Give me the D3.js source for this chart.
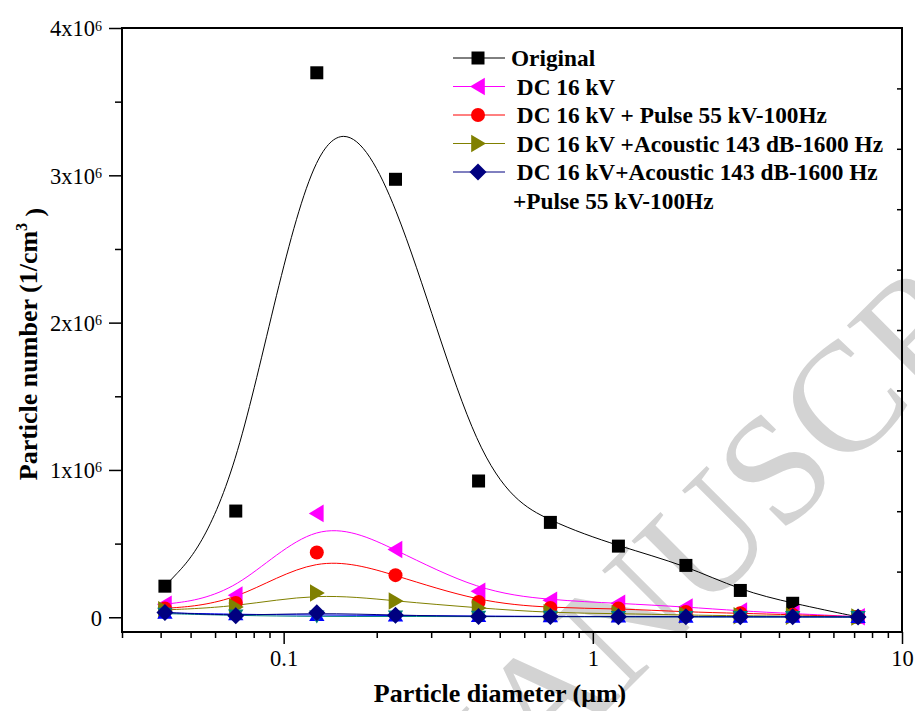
<!DOCTYPE html>
<html>
<head>
<meta charset="utf-8">
<script src="https://cdn.jsdelivr.net/npm/d3@7"></script>
<style>
  html, body { margin: 0; padding: 0; background: #fff; }
  svg { display: block; }
</style>
</head>
<body>
<svg id="chart" width="915" height="711"></svg>
<script>
// ---------------- data ----------------
const diameters = [0.0413, 0.070, 0.128, 0.230, 0.427, 0.729, 1.21, 2.00, 3.00, 4.43, 7.21];
const original        = [211000, 721000, 3696000, 2973000, 925000, 644000, 483000, 352000, 182000, 95000, 2000];
const dc16            = [88000, 150000, 705000, 460000, 177000, 116000, 95000, 70000, 43000, 25000, 4000];
const dc16Pulse       = [60000, 97000, 440000, 286000, 104000, 63000, 59000, 36000, 27000, 17000, 3000];
const dc16Acoustic    = [50000, 70000, 165000, 110000, 63000, 30000, 25000, 15000, 10000, 8000, 2000];
const hiddenBlue      = [30000, 20000, 15000, 12000, 8000, 6000, 5000, 4000, 3000, 3000, 2000];
const hiddenTeal      = [25000, 12000, 5000, 6000, 4000, 4000, 3000, 3000, 2000, 2000, 2000];
const dc16AcPulse     = [33000, 10000, 30000, 14000, 5000, 5000, 4000, 4000, 3000, 3000, 2000];

const legendLabels = [
  ["Original"],
  [" DC 16 kV"],
  [" DC 16 kV + Pulse 55 kV-100Hz"],
  [" DC 16 kV +Acoustic 143 dB-1600 Hz"],
  [" DC 16 kV+Acoustic 143 dB-1600 Hz", "+Pulse 55 kV-100Hz"]
];
const xTickValues = [0.1, 1, 10];
const xTickLabels = ["0.1", "1", "10"];
const yTickValues = [0, 1e6, 2e6, 3e6, 4e6];
const yTickMantissa = ["0", "1", "2", "3", "4"];
const xTitle = "Particle diameter (\u03BCm)";
const yTitle = "Particle number (1/cm";

// ---------------- layout ----------------
const svg = d3.select("#chart");
const pL = 122, pR = 902, pT = 28, pB = 632;
const x = d3.scaleLog().domain([0.03, 10]).range([pL, pR]);
const y = d3.scaleLinear().domain([-100000, 4000000]).range([pB, pT]);
const serif = "'Liberation Serif', 'Times New Roman', serif";

// watermark
const wm = svg.append("g").attr("transform", "translate(444,873) rotate(-45)");
wm.append("text")
  .attr("text-anchor", "end")
  .attr("font-family", serif).attr("font-size", 156).attr("fill", "#d3d3d3")
  .text("ACCEPTED\u00A0");
wm.append("text")
  .attr("font-family", serif).attr("font-size", 156).attr("fill", "#d3d3d3")
  .text("MANUSCRIPT");

// ---------------- series ----------------
const shapes = {
  square: s => `M${-s},${-s}H${s}V${s}H${-s}Z`,
  left: s => `M${-s},0L${s*0.85},${-s*1.1}L${s*0.85},${s*1.1}Z`,
  right: s => `M${s},0L${-s*0.85},${-s*1.1}L${-s*0.85},${s*1.1}Z`,
  up: s => `M0,${-s}L${s*1.1},${s*0.85}L${-s*1.1},${s*0.85}Z`,
  down: s => `M0,${s}L${s*1.1},${-s*0.85}L${-s*1.1},${-s*0.85}Z`,
  diamond: s => `M0,${-s}L${s},0L0,${s}L${-s},0Z`,
  circle: s => `M${-s},0A${s},${s} 0 1,0 ${s},0A${s},${s} 0 1,0 ${-s},0Z`
};

const series = [
  { values: original,     color: "#000000", shape: "square",  size: 6.5, legend: 0 },
  { values: dc16,         color: "#ff00ff", shape: "left",    size: 8,   legend: 1 },
  { values: dc16Pulse,    color: "#ff0000", shape: "circle",  size: 7,   legend: 2 },
  { values: dc16Acoustic, color: "#808000", shape: "right",   size: 8,   legend: 3 },
  { values: hiddenBlue,   color: "#0000ff", shape: "up",      size: 7,   legend: -1 },
  { values: hiddenTeal,   color: "#008080", shape: "down",    size: 7,   legend: -1 },
  { values: dc16AcPulse,  color: "#000080", shape: "diamond", size: 8.5, legend: 4 }
];

const line = d3.line()
  .x(d => x(d[0]))
  .y(d => y(d[1]))
  .curve(d3.curveBasis);

const plot = svg.append("g");
series.forEach(s => {
  const pts = diameters.map((d, i) => [d, s.values[i]]);
  plot.append("path")
    .attr("d", line(pts))
    .attr("fill", "none")
    .attr("stroke", s.color)
    .attr("stroke-width", 1);
});
series.forEach(s => {
  const pts = diameters.map((d, i) => [d, s.values[i]]);
  plot.selectAll(null).data(pts).enter().append("path")
    .attr("transform", d => `translate(${x(d[0])},${y(d[1])})`)
    .attr("d", shapes[s.shape](s.size))
    .attr("fill", s.color);
});

// ---------------- axes ----------------
svg.append("rect")
  .attr("x", pL).attr("y", pT)
  .attr("width", pR - pL).attr("height", pB - pT)
  .attr("fill", "none").attr("stroke", "#000").attr("stroke-width", 2);

const xMinor = x.ticks().filter(v => !xTickValues.some(t => Math.abs(t - v) < 1e-9));
svg.append("g")
  .attr("transform", `translate(0,${pB})`)
  .call(d3.axisBottom(x).tickValues(xMinor).tickSize(6).tickFormat(""))
  .call(g => g.select(".domain").remove())
  .call(g => g.selectAll("line").attr("stroke-width", 1.5));
svg.append("g")
  .attr("transform", `translate(0,${pB})`)
  .call(d3.axisBottom(x).tickValues(xTickValues).tickSize(12)
        .tickFormat((d, i) => xTickLabels[i]).tickPadding(6))
  .call(g => g.select(".domain").remove())
  .call(g => g.selectAll("line").attr("stroke-width", 1.5))
  .call(g => g.selectAll("text").attr("font-family", serif).attr("font-size", 22.5).attr("fill", "#000"));

const yMinor = d3.range(500000, 4000000, 1000000);
svg.append("g")
  .attr("transform", `translate(${pL},0)`)
  .call(d3.axisLeft(y).tickValues(yMinor).tickSize(7).tickFormat(""))
  .call(g => g.select(".domain").remove())
  .call(g => g.selectAll("line").attr("stroke-width", 1.5));
const yAxisG = svg.append("g")
  .attr("transform", `translate(${pL},0)`)
  .call(d3.axisLeft(y).tickValues(yTickValues).tickSize(13).tickFormat(""))
  .call(g => g.select(".domain").remove())
  .call(g => g.selectAll("line").attr("stroke-width", 1.5));
yAxisG.selectAll(".tick").each(function(d, i) {
  const t = d3.select(this).append("text")
    .attr("x", -20).attr("dy", "0.35em")
    .attr("text-anchor", "end")
    .attr("font-family", serif).attr("font-size", 22.5).attr("fill", "#000");
  if (d === 0) {
    t.text(yTickMantissa[i]);
  } else {
    t.append("tspan").text(yTickMantissa[i] + "x10");
    t.append("tspan").attr("dy", "-0.42em").attr("font-size", 14).text("6");
  }
});

const yRight = d3.scaleLinear().domain([0, 10]).range([pB, pT]);
svg.append("g")
  .attr("transform", `translate(${pR},0)`)
  .call(d3.axisLeft(yRight).tickValues(d3.range(1, 10)).tickSize(5).tickFormat(""))
  .call(g => g.select(".domain").remove())
  .call(g => g.selectAll("line").attr("stroke-width", 1.5));

// axis titles
svg.append("text")
  .attr("x", 500).attr("y", 702)
  .attr("text-anchor", "middle")
  .attr("font-family", serif).attr("font-size", 26).attr("font-weight", "bold")
  .text(xTitle);

const yt = svg.append("text")
  .attr("transform", "translate(37,344) rotate(-90)")
  .attr("text-anchor", "middle")
  .attr("font-family", serif).attr("font-size", 26).attr("font-weight", "bold");
yt.append("tspan").text(yTitle);
yt.append("tspan").attr("dy", "-0.6em").attr("font-size", 16).text("3");
yt.append("tspan").attr("dy", "0.6em").text(" )");

// ---------------- legend ----------------
const legend = svg.append("g");
const rowY0 = 58, rowStep = 28.5;
series.filter(s => s.legend >= 0).forEach(s => {
  const ry = rowY0 + s.legend * rowStep;
  legend.append("line")
    .attr("x1", 453).attr("x2", 505).attr("y1", ry).attr("y2", ry)
    .attr("stroke", s.color).attr("stroke-width", 1);
  legend.append("path")
    .attr("transform", `translate(478,${ry})`)
    .attr("d", shapes[s.shape](s.size))
    .attr("fill", s.color);
  legendLabels[s.legend].forEach((txt, k) => {
    legend.append("text")
      .attr("x", k === 0 ? 511 : 513)
      .attr("y", ry + k * rowStep)
      .attr("dy", "0.35em")
      .attr("font-family", serif).attr("font-size", 23.3).attr("font-weight", "bold")
      .style("white-space", "pre")
      .text(txt);
  });
});
</script>
</body>
</html>
